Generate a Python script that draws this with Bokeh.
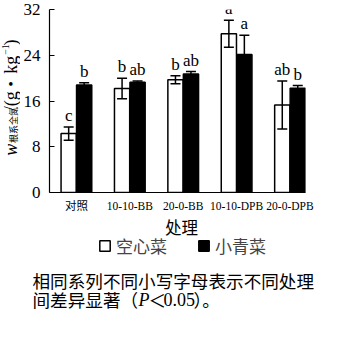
import numpy as np
from math import pi
from bokeh.plotting import figure
from bokeh.layouts import column, row
from bokeh.models import (ColumnDataSource, Range1d, FixedTicker, Whisker, TeeHead,
                          LabelSet, Label, Legend, LegendItem)
from bokeh.embed import file_html
from bokeh.resources import INLINE

# ---------------- data ----------------
categories = ["对照", "10-10-BB", "20-0-BB", "10-10-DPB", "20-0-DPB"]
series_names = ["空心菜", "小青菜"]
kxc_mean = [10.3, 18.2, 19.7, 27.75, 15.3]
kxc_err = [1.15, 1.8, 0.7, 2.35, 4.2]
kxc_letters = ["c", "b", "b", "a", "ab"]
xqc_mean = [18.8, 19.3, 20.7, 24.15, 18.25]
xqc_err = [0.4, 0.2, 0.45, 3.35, 0.45]
xqc_letters = ["b", "ab", "ab", "a", "b"]
y_ticks = [0, 8, 16, 24, 32]
x_title = "处理"
caption1 = "相同系列不同小写字母表示不同处理"

SERIF = "Liberation Serif"
CJK = "Noto Sans CJK SC"
MIX = "'Liberation Serif', 'Noto Sans CJK SC'"

W, H = 351, 355
LW = 20          # width of the y-title strip
H1 = 214         # height of chart row
TOP = 9          # frame top (global px)
BOT = 193        # frame bottom (global px)

idx = np.arange(len(categories))
off = 0.145
src = ColumnDataSource(dict(
    xk=idx - off, xq=idx + off,
    kxc=kxc_mean, xqc=xqc_mean,
    kxc_hi=np.array(kxc_mean) + np.array(kxc_err),
    kxc_lo=np.array(kxc_mean) - np.array(kxc_err),
    xqc_hi=np.array(xqc_mean) + np.array(xqc_err),
    xqc_lo=np.array(xqc_mean) - np.array(xqc_err),
    kl=kxc_letters, ql=xqc_letters,
))

def blank(width, height, yr):
    f = figure(width=width, height=height, x_range=Range1d(0, width), y_range=yr,
               output_backend="svg", toolbar_location=None,
               x_axis_location=None, y_axis_location=None,
               min_border=0, min_border_left=0, min_border_right=0,
               min_border_top=0, min_border_bottom=0)
    f.title.visible = False
    f.outline_line_color = None
    f.grid.visible = False
    return f

# ---------------- main chart ----------------
X0, X1 = -0.504, 4.29
p = figure(width=W - LW, height=H1, x_range=Range1d(X0, X1), y_range=Range1d(0, 32),
           output_backend="svg", toolbar_location=None,
           min_border_left=48 - LW, min_border_right=46, min_border_top=TOP,
           min_border_bottom=H1 - BOT)
p.title.visible = False
p.outline_line_color = None
p.grid.visible = False

r1 = p.vbar(x="xk", top="kxc", width=0.285, source=src, fill_color="white",
            line_color="black", line_width=1.5)
r2 = p.vbar(x="xq", top="xqc", width=0.285, source=src, fill_color="black",
            line_color="black", line_width=1.5)

for base, lo, hi in (("xk", "kxc_lo", "kxc_hi"), ("xq", "xqc_lo", "xqc_hi")):
    p.add_layout(Whisker(source=src, base=base, lower=lo, upper=hi, line_width=1.5,
                         line_color="black",
                         upper_head=TeeHead(size=10, line_width=1.5, line_color="black"),
                         lower_head=TeeHead(size=10, line_width=1.5, line_color="black"),
                         level="overlay"))

for xf, yf, tf in (("xk", "kxc_hi", "kl"), ("xq", "xqc_hi", "ql")):
    p.add_layout(LabelSet(x=xf, y=yf, text=tf, source=src, text_align="center",
                          text_baseline="alphabetic", y_offset=6, text_font=SERIF,
                          text_font_size="17px", text_color="black"))

p.yaxis.ticker = FixedTicker(ticks=y_ticks)
p.yaxis.major_tick_in = 5
p.yaxis.major_tick_out = 0
p.yaxis.minor_tick_line_color = None
p.yaxis.major_label_standoff = 9
p.yaxis.major_label_text_font = SERIF
p.yaxis.major_label_text_font_size = "17px"
p.yaxis.major_label_text_color = "black"
p.yaxis.axis_line_width = 1.2

p.xaxis.ticker = FixedTicker(ticks=list(idx))
p.xaxis.major_label_overrides = {int(i): c for i, c in zip(idx, categories)}
p.xaxis.major_tick_in = 0
p.xaxis.major_tick_out = 0
p.xaxis.minor_tick_line_color = None
p.xaxis.major_label_standoff = 7
p.xaxis.major_label_text_font = MIX
p.xaxis.major_label_text_font_size = "11.5px"
p.xaxis.major_label_text_color = "black"
p.xaxis.axis_line_width = 1.2

# ---------------- y-axis title strip ----------------
fy = blank(LW, H1, Range1d(H1, 0))   # y data == pixel from top
pieces = [
    ("w", 171, SERIF, "18px", "italic", 0),
    ("根系全氮", 156, CJK, "9px", "normal", 3),
    ("/(g", 119, SERIF, "18px", "normal", 0),
    ("•", 90, SERIF, "15px", "normal", 0),
    ("kg", 75, SERIF, "18px", "normal", 0),
    ("−1", 53, SERIF, "10px", "normal", -5),
    (")", 42, SERIF, "18px", "normal", 0),
]
for txt, start, font, size, style, xo in pieces:
    fy.add_layout(Label(x=10, y=start, text=txt, angle=pi / 2, text_align="left",
                        text_baseline="middle", text_font=font, text_font_size=size,
                        text_font_style=style, x_offset=xo, text_color="black"))

# ---------------- x title, legend + caption strip ----------------
H2 = H - H1
fb = blank(W, H2, Range1d(H2, 0))
fb.add_layout(Label(x=181, y=226 - H1, text=x_title, text_align="center",
                    text_baseline="middle", text_font=CJK, text_font_size="16.5px",
                    text_color="black"))
nan = np.array([np.nan])
d1 = fb.vbar(x=nan, top=nan, width=1, fill_color="white", line_color="black", line_width=1.5)
d2 = fb.vbar(x=nan, top=nan, width=1, fill_color="black", line_color="black", line_width=1.5)
legend = Legend(items=[LegendItem(label=series_names[0], renderers=[d1], index=0),
                       LegendItem(label=series_names[1], renderers=[d2], index=0)],
                orientation="horizontal", glyph_width=13, glyph_height=13,
                label_text_font=CJK, label_text_font_size="17px", label_standoff=5,
                label_height=13, spacing=30, padding=0, margin=0,
                border_line_color=None, background_fill_alpha=0,
                location=(98, H2 - (258 - H1)))
fb.add_layout(legend)

fb.add_layout(Label(x=32, y=280 - H1, text=caption1, text_align="left",
                    text_baseline="middle", text_font=CJK, text_font_size="17.6px",
                    text_color="black"))
line2 = [
    ("间差异显著（", 32, CJK, "17.6px", "normal"),
    ("P", 138, SERIF, "18px", "italic"),
    ("＜", 148, CJK, "17.6px", "normal"),
    ("0.05", 163, SERIF, "18px", "normal"),
    ("）。", 193, CJK, "17.6px", "normal"),
]
for txt, start, font, size, style in line2:
    fb.add_layout(Label(x=start, y=299 - H1, text=txt, text_align="left",
                        text_baseline="middle", text_font=font, text_font_size=size,
                        text_font_style=style, text_color="black"))

layout = column(row(fy, p, spacing=0), fb, spacing=0)
open("out.html", "w").write(file_html(layout, INLINE))
